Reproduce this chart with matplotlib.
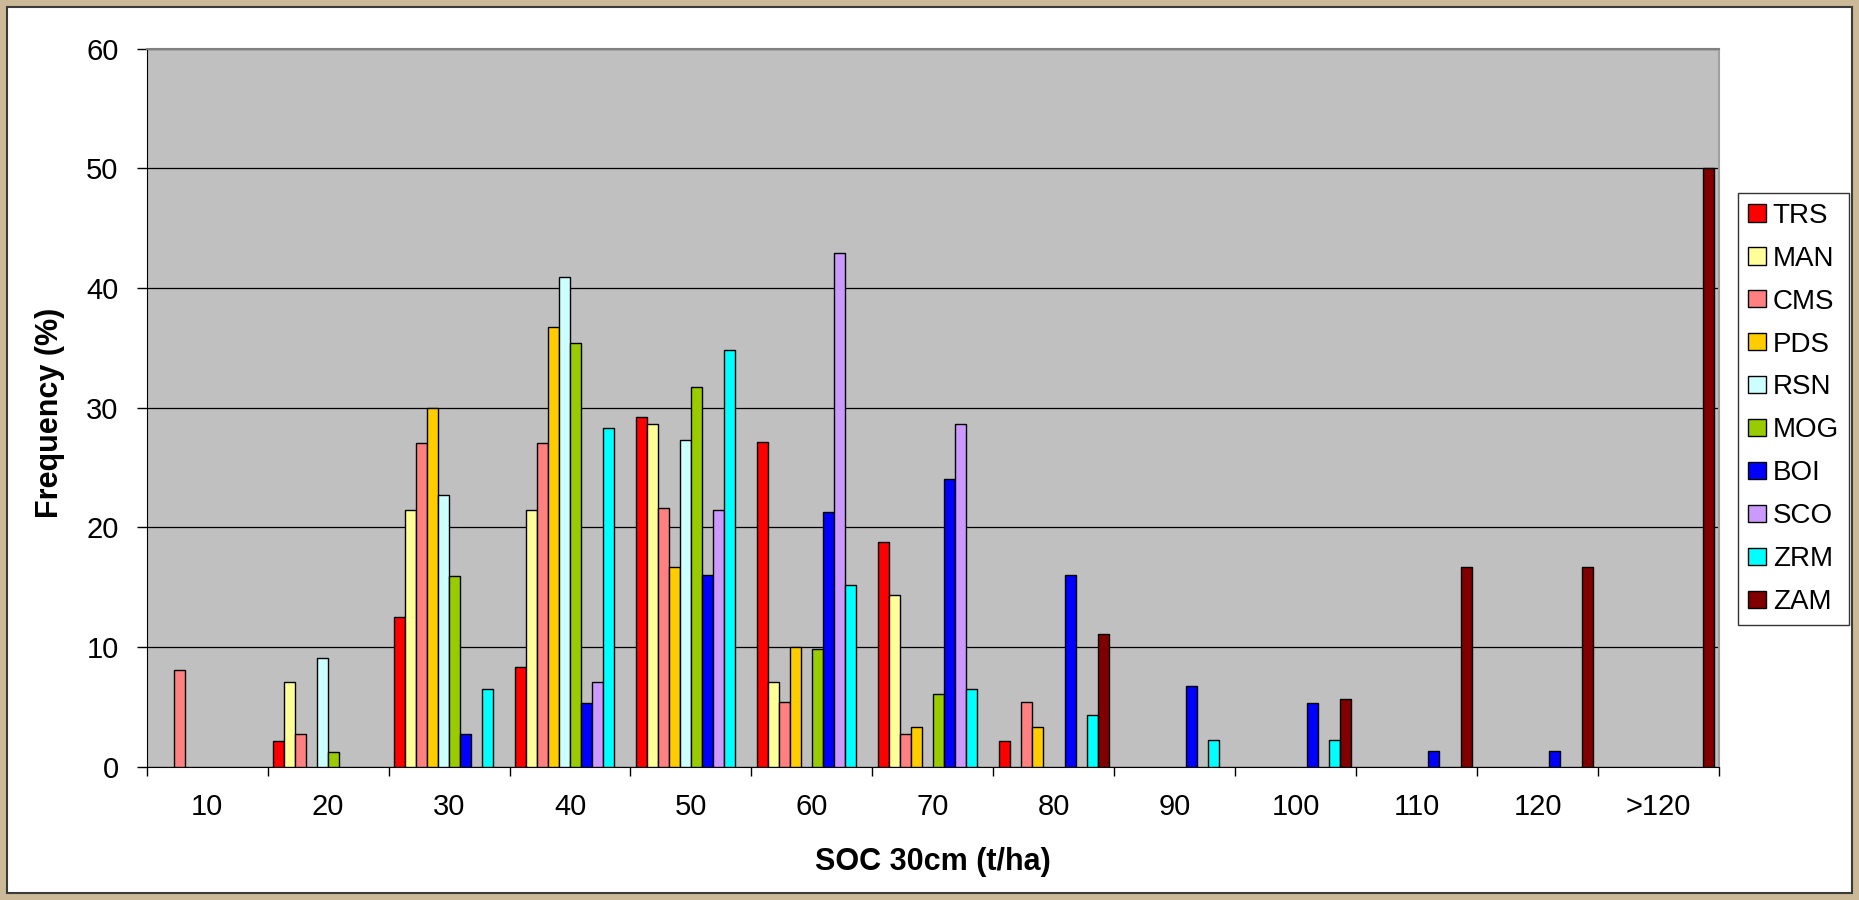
import numpy as np
import matplotlib.pyplot as plt
from matplotlib.patches import Rectangle
from matplotlib.ticker import FixedLocator

plt.rcParams['font.family'] = ['Liberation Sans', 'DejaVu Sans']

# SOC classes (t/ha) and frequency (%) per site
classes = ['10', '20', '30', '40', '50', '60', '70', '80', '90', '100', '110', '120', '>120']

trs = [0, 2.1, 12.5, 8.3, 29.2, 27.1, 18.8, 2.1, 0, 0, 0, 0, 0]
man = [0, 7.1, 21.4, 21.4, 28.6, 7.1, 14.3, 0, 0, 0, 0, 0, 0]
cms = [8.1, 2.7, 27.0, 27.0, 21.6, 5.4, 2.7, 5.4, 0, 0, 0, 0, 0]
pds = [0, 0, 30.0, 36.7, 16.7, 10.0, 3.3, 3.3, 0, 0, 0, 0, 0]
rsn = [0, 9.1, 22.7, 40.9, 27.3, 0, 0, 0, 0, 0, 0, 0, 0]
mog = [0, 1.2, 15.9, 35.4, 31.7, 9.8, 6.1, 0, 0, 0, 0, 0, 0]
boi = [0, 0, 2.7, 5.3, 16.0, 21.3, 24.0, 16.0, 6.7, 5.3, 1.3, 1.3, 0]
sco = [0, 0, 0, 7.1, 21.4, 42.9, 28.6, 0, 0, 0, 0, 0, 0]
zrm = [0, 0, 6.5, 28.3, 34.8, 15.2, 6.5, 4.3, 2.2, 2.2, 0, 0, 0]
zam = [0, 0, 0, 0, 0, 0, 0, 11.1, 0, 5.6, 16.7, 16.7, 50.0]

sites = ['TRS', 'MAN', 'CMS', 'PDS', 'RSN', 'MOG', 'BOI', 'SCO', 'ZRM', 'ZAM']
series = [trs, man, cms, pds, rsn, mog, boi, sco, zrm, zam]
colors = ['#FF0000', '#FFFF99', '#FF8080', '#FFCC00', '#CCFFFF',
          '#99CC00', '#0000FF', '#CC99FF', '#00FFFF', '#800000']

W, H = 1859, 900
fig = plt.figure(figsize=(W / 100, H / 100), dpi=100)
fig.patch.set_facecolor('#cbb998')

# white chart panel inside the tan frame
panel = Rectangle((7 / W, 7 / H), (W - 14) / W, (H - 14) / H, transform=fig.transFigure,
                  facecolor='white', edgecolor='#3a3a3a', linewidth=1.5, zorder=-5)
fig.patches.append(panel)

ax = fig.add_axes([146.7 / W, 1 - 766.5 / H, (1719 - 146.7) / W, (766.5 - 48.6) / H])
ax.set_facecolor('#C0C0C0')

x = np.arange(len(classes))
bw = 1 / 11
for i, (name, vals, col) in enumerate(zip(sites, series, colors)):
    vals = np.array(vals, dtype=float)
    keep = vals > 0
    ax.bar(x[keep] + (i - 4.5) * bw, vals[keep], width=bw, color=col,
           edgecolor='black', linewidth=1.0, label=name, zorder=3)

ax.set_xlim(-0.5, len(classes) - 0.5)
ax.set_ylim(0, 60)
ax.set_yticks(np.arange(0, 61, 10))
ax.yaxis.grid(True, color='black', linewidth=0.9)
ax.set_axisbelow(True)

ax.set_xticks(x)
ax.set_xticklabels(classes)
ax.xaxis.set_minor_locator(FixedLocator(np.arange(-0.5, len(classes), 1)))
ax.tick_params(axis='x', which='major', length=0, pad=19, labelsize=21)
ax.tick_params(axis='x', which='minor', length=6.5, width=1, color='black')
ax.tick_params(axis='y', length=7.2, width=1, pad=13, labelsize=21)

ax.spines['left'].set_color('black')
ax.spines['bottom'].set_color('black')
ax.spines['top'].set_color('#808080')
ax.spines['right'].set_color('#a0a0a0')
ax.spines['top'].set_linewidth(1.5)
ax.spines['right'].set_linewidth(1.5)

ax.set_xlabel('SOC 30cm (t/ha)', fontsize=22, fontweight='bold', va='center')
ax.xaxis.set_label_coords(0.5, -0.133)
ax.set_ylabel('Frequency (%)', fontsize=22, fontweight='bold', va='center', ha='center')
ax.yaxis.set_label_coords(-0.0615, 0.492)

leg = fig.legend(loc='upper left', bbox_to_anchor=(1738 / W, 1 - 193 / H), fontsize=20,
                 frameon=True, fancybox=False, shadow=False, borderpad=0.35,
                 labelspacing=0.61, handlelength=0.65, handleheight=0.58,
                 handletextpad=0.25, borderaxespad=0)
leg.get_frame().set_edgecolor('black')
leg.get_frame().set_linewidth(1.0)

fig.savefig('out.png', dpi=100, facecolor=fig.get_facecolor())
